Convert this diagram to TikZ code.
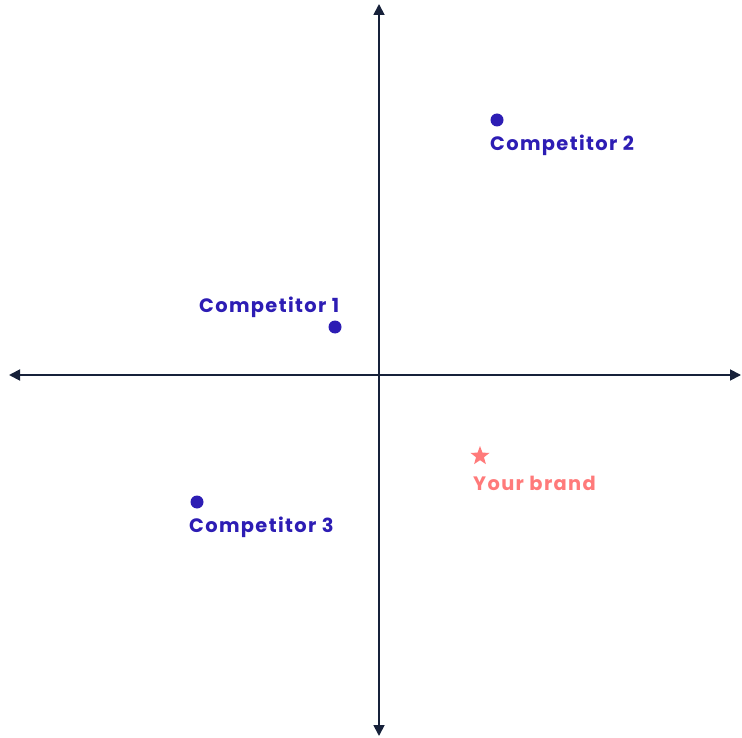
\documentclass[tikz,border=0pt]{standalone}
\usepackage{fontspec}
\setmainfont{Poppins}
\newfontfamily\lblfont[LetterSpace=7]{Poppins}
\usetikzlibrary{arrows.meta,shapes.geometric}
\definecolor{axiscol}{HTML}{17213A}
\definecolor{compcol}{HTML}{2D1DB4}
\definecolor{brandcol}{HTML}{FF7A7A}
\begin{document}
\begin{tikzpicture}[x=1pt,y=-1pt,
  axis/.style={draw=axiscol,line width=1.8pt,-{Triangle[length=11pt,width=11pt]}},
  dot/.style={circle,fill=compcol,inner sep=0pt,minimum size=13pt},
  lbl/.style={font=\lblfont\bfseries\fontsize{19.4}{23}\selectfont,inner sep=0pt,anchor=west},
  starmark/.style={star,star points=5,star point ratio=2.4,fill=brandcol,inner sep=0pt,minimum size=20pt}]
\useasboundingbox (0,0) rectangle (742,738);
\coordinate (c) at (379,375);
\coordinate (top) at (379,4);
\coordinate (bot) at (379,736);
\coordinate (left) at (9,375);
\coordinate (right) at (741,375);
\draw[axis] (c) -- (top);
\draw[axis] (c) -- (bot);
\draw[axis] (c) -- (left);
\draw[axis] (c) -- (right);
\node[dot] (d2) at (497,120) {};
\node[lbl,text=compcol] (l2) at (490,145) {Competitor 2};
\node[dot] (d1) at (335,327) {};
\node[lbl,text=compcol] (l1) at (199,307) {Competitor 1};
\node[dot] (d3) at (197,502) {};
\node[lbl,text=compcol] (l3) at (189,527) {Competitor 3};
\node[starmark] (s) at (480,456) {};
\node[lbl,text=brandcol] (lb) at (473,483) {Your brand};
\end{tikzpicture}
\end{document}
